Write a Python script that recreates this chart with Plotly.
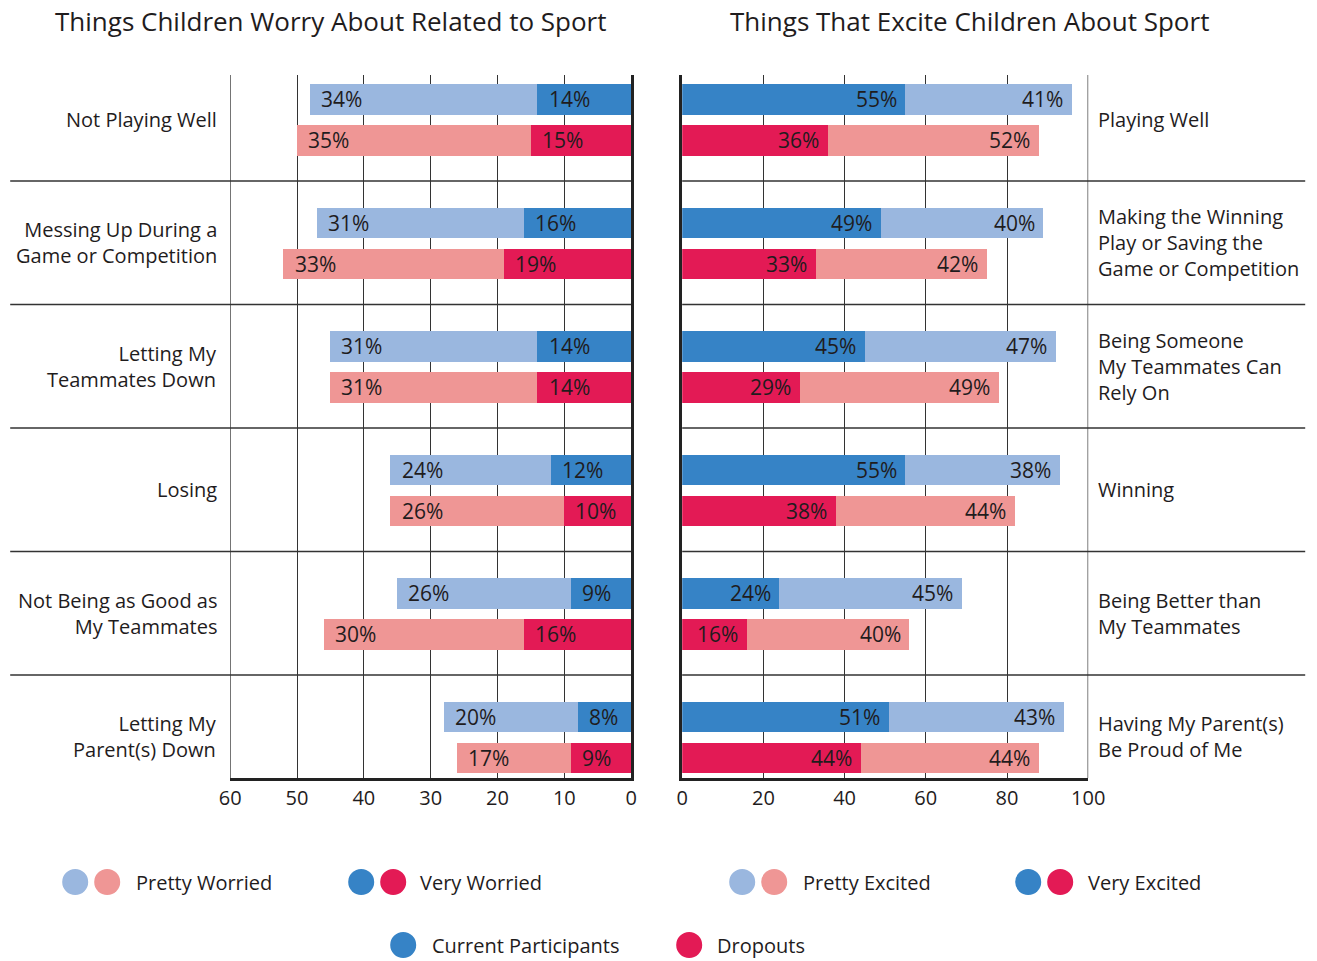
import plotly.graph_objects as go

# --- data ---------------------------------------------------------------
worry_categories = [
    "Not Playing Well",
    "Messing Up During a<br>Game or Competition",
    "Letting My<br>Teammates Down",
    "Losing",
    "Not Being as Good as<br>My Teammates",
    "Letting My<br>Parent(s) Down",
]
worry_current_very = [14, 16, 14, 12, 9, 8]
worry_current_pretty = [34, 31, 31, 24, 26, 20]
worry_dropout_very = [15, 19, 14, 10, 16, 9]
worry_dropout_pretty = [35, 33, 31, 26, 30, 17]

excite_categories = [
    "Playing Well",
    "Making the Winning<br>Play or Saving the<br>Game or Competition",
    "Being Someone<br>My Teammates Can<br>Rely On",
    "Winning",
    "Being Better than<br>My Teammates",
    "Having My Parent(s)<br>Be Proud of Me",
]
excite_current_very = [55, 49, 45, 55, 24, 51]
excite_current_pretty = [41, 40, 47, 38, 45, 43]
excite_dropout_very = [36, 33, 29, 38, 16, 44]
excite_dropout_pretty = [52, 42, 49, 44, 40, 44]

worry_ticks = [60, 50, 40, 30, 20, 10, 0]
excite_ticks = [0, 20, 40, 60, 80, 100]

# --- styling ------------------------------------------------------------
W, H = 1317, 961
# horizontal placement helper: pixel column -> paper fraction
PAD_L, PAPER_W = 10.8, 1289.0


def px(x):
    return (x - PAD_L) / PAPER_W


def py(y):
    return 1 - y / H


FONT = "Open Sans"
INK = "#1f1c1d"
GRID = "#333333"
LIGHT_BLUE = "#9ab7df"
DARK_BLUE = "#3683c6"
LIGHT_RED = "#ef9695"
DARK_RED = "#e31a55"

BAR_W = 0.243
CUR_OFF = 0.34
DROP_OFF = 0.672
rows = list(range(len(worry_categories)))
y_cur = [r + CUR_OFF for r in rows]
y_drop = [r + DROP_OFF for r in rows]

fig = go.Figure()


def add_stack(very, pretty, ys, c_very, c_pretty, xa, ya):
    fig.add_trace(go.Bar(
        x=very, y=ys, base=[0] * len(very), orientation="h", width=BAR_W,
        marker=dict(color=c_very, line=dict(width=0)),
        xaxis=xa, yaxis=ya, hoverinfo="skip", showlegend=False))
    fig.add_trace(go.Bar(
        x=pretty, y=ys, base=very, orientation="h", width=BAR_W,
        marker=dict(color=c_pretty, line=dict(width=0)),
        xaxis=xa, yaxis=ya, hoverinfo="skip", showlegend=False))


add_stack(worry_current_very, worry_current_pretty, y_cur, DARK_BLUE, LIGHT_BLUE, "x", "y")
add_stack(worry_dropout_very, worry_dropout_pretty, y_drop, DARK_RED, LIGHT_RED, "x", "y")
add_stack(excite_current_very, excite_current_pretty, y_cur, DARK_BLUE, LIGHT_BLUE, "x2", "y2")
add_stack(excite_dropout_very, excite_dropout_pretty, y_drop, DARK_RED, LIGHT_RED, "x2", "y2")

annotations = []
label_font = dict(family=FONT, size=21, color=INK)


# value labels sit at the outer end of each segment
def seg_labels(very, pretty, ys, xref, yref, anchor, shift):
    for v, p, y in zip(very, pretty, ys):
        for end, val in ((v, v), (v + p, p)):
            annotations.append(dict(
                x=end, y=y, xref=xref, yref=yref, text=f"{val}%",
                showarrow=False, xanchor=anchor, yanchor="middle",
                xshift=shift, font=label_font))


seg_labels(worry_current_very, worry_current_pretty, y_cur, "x", "y", "left", 9)
seg_labels(worry_dropout_very, worry_dropout_pretty, y_drop, "x", "y", "left", 9)
seg_labels(excite_current_very, excite_current_pretty, y_cur, "x2", "y2", "right", -7)
seg_labels(excite_dropout_very, excite_dropout_pretty, y_drop, "x2", "y2", "right", -7)

cat_font = dict(family=FONT, size=20, color=INK)
for r, (wc, ec) in enumerate(zip(worry_categories, excite_categories)):
    annotations.append(dict(x=px(219), y=r + 0.5, xref="paper", yref="y", text=wc,
                            showarrow=False, xanchor="right", yanchor="middle",
                            align="right", font=cat_font))
    annotations.append(dict(x=px(1096), y=r + 0.5, xref="paper", yref="y2", text=ec,
                            showarrow=False, xanchor="left", yanchor="middle",
                            align="left", font=cat_font))

title_font = dict(family=FONT, size=26, color=INK)
annotations.append(dict(x=px(331), y=py(21), xref="paper", yref="paper",
                        text="Things Children Worry About Related to Sport",
                        showarrow=False, xanchor="center", yanchor="middle", font=title_font))
annotations.append(dict(x=px(969), y=py(21), xref="paper", yref="paper",
                        text="Things That Excite Children About Sport",
                        showarrow=False, xanchor="center", yanchor="middle", font=title_font))

y_top, y_bot = 75, 778
row0_px, row_px = 57.5, 123.5
y_range = [(y_bot - row0_px) / row_px, (y_top - row0_px) / row_px]
y_domain = [py(y_bot), py(y_top)]

shapes = []
# outer gridlines at the far ends of both scales
shapes.append(dict(type="line", xref="x", yref="y", x0=60, x1=60,
                   y0=y_range[0], y1=y_range[1], line=dict(color=GRID, width=1.3)))
shapes.append(dict(type="line", xref="x2", yref="y2", x0=100, x1=100,
                   y0=y_range[0], y1=y_range[1], line=dict(color=GRID, width=1.3)))
# row separators
for r in rows[1:]:
    shapes.append(dict(type="line", xref="paper", yref="y", x0=px(10), x1=px(631),
                       y0=r, y1=r, line=dict(color=GRID, width=1.5), layer="below"))
    shapes.append(dict(type="line", xref="paper", yref="y2", x0=px(682), x1=px(1305),
                       y0=r, y1=r, line=dict(color=GRID, width=1.5), layer="below"))

# legend
legend_font = dict(family=FONT, size=20, color=INK)
legend_items = [
    (882, ((75, LIGHT_BLUE), (107, LIGHT_RED)), 134, "Pretty Worried"),
    (882, ((361, DARK_BLUE), (393, DARK_RED)), 418, "Very Worried"),
    (882, ((742, LIGHT_BLUE), (774, LIGHT_RED)), 801, "Pretty Excited"),
    (882, ((1028, DARK_BLUE), (1060, DARK_RED)), 1086, "Very Excited"),
    (945, ((403, DARK_BLUE),), 430, "Current Participants"),
    (945, ((689, DARK_RED),), 715, "Dropouts"),
]
for cy, dots, tx, label in legend_items:
    for cx, col in dots:
        shapes.append(dict(type="circle", xref="paper", yref="paper",
                           xsizemode="pixel", ysizemode="pixel",
                           xanchor=px(cx), yanchor=py(cy),
                           x0=-13, x1=13, y0=-13, y1=13,
                           fillcolor=col, line=dict(width=0)))
    annotations.append(dict(x=px(tx), y=py(cy), xref="paper", yref="paper",
                            text=label, showarrow=False, xanchor="left",
                            yanchor="middle", font=legend_font))

axis_common = dict(showgrid=True, gridcolor=GRID, gridwidth=1, zeroline=False,
                   showline=True, linecolor="#222222", linewidth=2.5,
                   ticks="", tickfont=dict(family=FONT, size=20, color=INK),
                   fixedrange=True)

fig.update_layout(
    width=W, height=H,
    margin=dict(l=0, r=0, t=0, b=0),
    paper_bgcolor="white", plot_bgcolor="white",
    barmode="overlay", bargap=0,
    showlegend=False,
    xaxis=dict(domain=[px(230), px(631)], range=[60, 0], tickvals=worry_ticks,
               anchor="y", **axis_common),
    yaxis=dict(domain=y_domain, range=y_range, anchor="x", side="right",
               showgrid=False, zeroline=False, showticklabels=False, ticks="",
               showline=True, linecolor="#222222", linewidth=2.5),
    xaxis2=dict(domain=[px(682), px(1088)], range=[0, 100], tickvals=excite_ticks,
                anchor="y2", **axis_common),
    yaxis2=dict(domain=y_domain, range=y_range, anchor="x2", side="left",
                showgrid=False, zeroline=False, showticklabels=False, ticks="",
                showline=True, linecolor="#222222", linewidth=2.5),
    annotations=annotations,
    shapes=shapes,
)

fig.write_html("out.html")
